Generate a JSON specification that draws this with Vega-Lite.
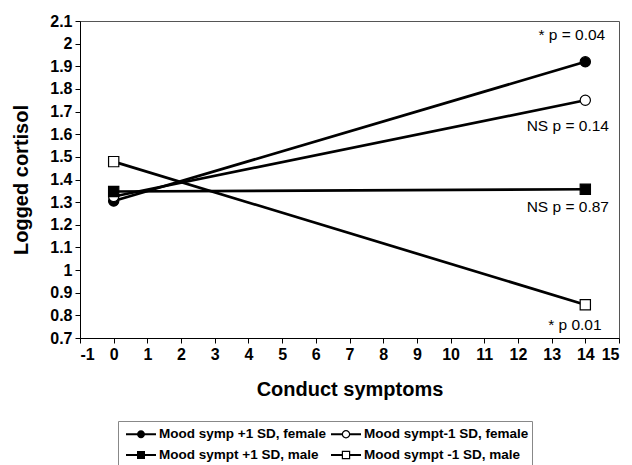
{
  "$schema": "https://vega.github.io/schema/vega-lite/v6.json",
  "width": 539,
  "height": 317,
  "autosize": "none",
  "padding": {"left": 80, "top": 21, "right": 13, "bottom": 127},
  "background": "white",
  "config": {
    "font": "Liberation Sans",
    "view": {"stroke": "#555555", "strokeWidth": 1},
    "axis": {
      "grid": false,
      "domainColor": "black",
      "tickColor": "black",
      "labelColor": "black",
      "titleColor": "black",
      "labelFont": "Liberation Sans",
      "titleFont": "Liberation Sans",
      "labelFontWeight": "bold",
      "labelFontSize": 16,
      "titleFontWeight": "bold",
      "titleFontSize": 20,
      "tickSize": 5,
      "tickCount": 30,
      "labelOverlap": false,
      "labelBound": false
    }
  },
  "datasets": {
    "series": [
      {"group": "Mood symp +1 SD, female", "conduct": 0, "cortisol": 1.305},
      {"group": "Mood symp +1 SD, female", "conduct": 14, "cortisol": 1.92},
      {"group": "Mood sympt-1 SD, female", "conduct": 0, "cortisol": 1.325},
      {"group": "Mood sympt-1 SD, female", "conduct": 14, "cortisol": 1.75},
      {"group": "Mood sympt +1 SD, male", "conduct": 0, "cortisol": 1.347},
      {"group": "Mood sympt +1 SD, male", "conduct": 14, "cortisol": 1.357},
      {"group": "Mood sympt -1 SD, male", "conduct": 0, "cortisol": 1.479},
      {"group": "Mood sympt -1 SD, male", "conduct": 14, "cortisol": 0.847}
    ],
    "notes": [
      {"note": "* p = 0.04", "conduct": 13.6, "cortisol": 2.038},
      {"note": "NS p = 0.14", "conduct": 13.48, "cortisol": 1.637},
      {"note": "NS p = 0.87", "conduct": 13.48, "cortisol": 1.279},
      {"note": "* p  0.01", "conduct": 13.69, "cortisol": 0.758}
    ]
  },
  "resolve": {"scale": {"shape": "independent"}},
  "layer": [
    {
      "data": {"name": "series"},
      "mark": {"type": "line", "color": "black", "strokeWidth": 2.7},
      "encoding": {
        "x": {
          "field": "conduct", "type": "quantitative",
          "scale": {"domain": [-1, 15], "nice": false, "zero": false},
          "axis": {
            "title": "Conduct symptoms",
            "values": [-1, 0, 1, 2, 3, 4, 5, 6, 7, 8, 9, 10, 11, 12, 13, 14, 15],
            "labelExpr": "'' + datum.value",
            "labelPadding": 3,
            "titlePadding": 17
          }
        },
        "y": {
          "field": "cortisol", "type": "quantitative",
          "scale": {"domain": [0.7, 2.1], "nice": false, "zero": false},
          "axis": {
            "title": "Logged cortisol",
            "values": [0.7, 0.8, 0.9, 1, 1.1, 1.2, 1.3, 1.4, 1.5, 1.6, 1.7, 1.8, 1.9, 2, 2.1],
            "labelExpr": "'' + datum.value",
            "labelPadding": 3,
            "titlePadding": 18
          }
        },
        "detail": {"field": "group"}
      }
    },
    {
      "data": {"name": "series"},
      "mark": {"type": "point", "filled": true, "size": 105, "stroke": "black", "strokeWidth": 1.2, "opacity": 1},
      "encoding": {
        "x": {"field": "conduct", "type": "quantitative"},
        "y": {"field": "cortisol", "type": "quantitative"},
        "shape": {
          "field": "group", "type": "nominal",
          "scale": {
            "domain": ["Mood symp +1 SD, female", "Mood sympt-1 SD, female", "Mood sympt +1 SD, male", "Mood sympt -1 SD, male"],
            "range": ["circle", "circle", "square", "square"]
          },
          "legend": null
        },
        "fill": {
          "field": "group", "type": "nominal",
          "scale": {
            "domain": ["Mood symp +1 SD, female", "Mood sympt-1 SD, female", "Mood sympt +1 SD, male", "Mood sympt -1 SD, male"],
            "range": ["black", "white", "black", "white"]
          },
          "legend": null
        }
      }
    },
    {
      "data": {"name": "series"},
      "transform": [{"filter": "datum.conduct > 100"}],
      "mark": {"type": "point", "filled": true, "color": "black", "size": 400, "strokeWidth": 0, "opacity": 1},
      "encoding": {
        "x": {"field": "conduct", "type": "quantitative"},
        "y": {"field": "cortisol", "type": "quantitative"},
        "shape": {
          "field": "group", "type": "nominal",
          "scale": {
            "domain": ["Mood symp +1 SD, female", "Mood sympt-1 SD, female", "Mood sympt +1 SD, male", "Mood sympt -1 SD, male"],
            "range": [
              "M-0.5,-0.09H2.5V0.09H-0.5ZM0.6,0A0.4,0.4 0 1,1 1.4,0A0.4,0.4 0 1,1 0.6,0Z",
              "M-0.5,-0.09H0.6V0.09H-0.5ZM1.4,-0.09H2.5V0.09H1.4ZM0.58,0A0.42,0.42 0 1,1 1.42,0A0.42,0.42 0 1,1 0.58,0ZM0.7,0A0.3,0.3 0 1,0 1.3,0A0.3,0.3 0 1,0 0.7,0Z",
              "M-0.5,-0.09H2.5V0.09H-0.5ZM0.6,-0.4H1.4V0.4H0.6Z",
              "M-0.5,-0.09H0.58V0.09H-0.5ZM1.42,-0.09H2.5V0.09H1.42ZM0.58,-0.42H1.42V0.42H0.58ZM0.7,-0.3V0.3H1.3V-0.3Z"
            ]
          },
          "legend": {
            "title": null,
            "orient": "none",
            "legendX": 38,
            "legendY": 400,
            "direction": "horizontal",
            "columns": 2,
            "columnPadding": 0,
            "rowPadding": 4,
            "padding": 3,
            "strokeColor": "#888888",
            "fillColor": "white",
            "symbolSize": 400,
            "symbolFillColor": "black",
            "symbolStrokeWidth": 0,
            "labelFont": "Liberation Sans",
            "labelFontWeight": "bold",
            "labelFontSize": 13.5,
            "labelColor": "black",
            "labelOffset": 18,
            "labelLimit": 300
          }
        }
      }
    },
    {
      "data": {"name": "notes"},
      "mark": {"type": "text", "font": "Liberation Sans", "fontSize": 15.5, "color": "black", "align": "center", "baseline": "middle"},
      "encoding": {
        "x": {"field": "conduct", "type": "quantitative"},
        "y": {"field": "cortisol", "type": "quantitative"},
        "text": {"field": "note"}
      }
    }
  ]
}
